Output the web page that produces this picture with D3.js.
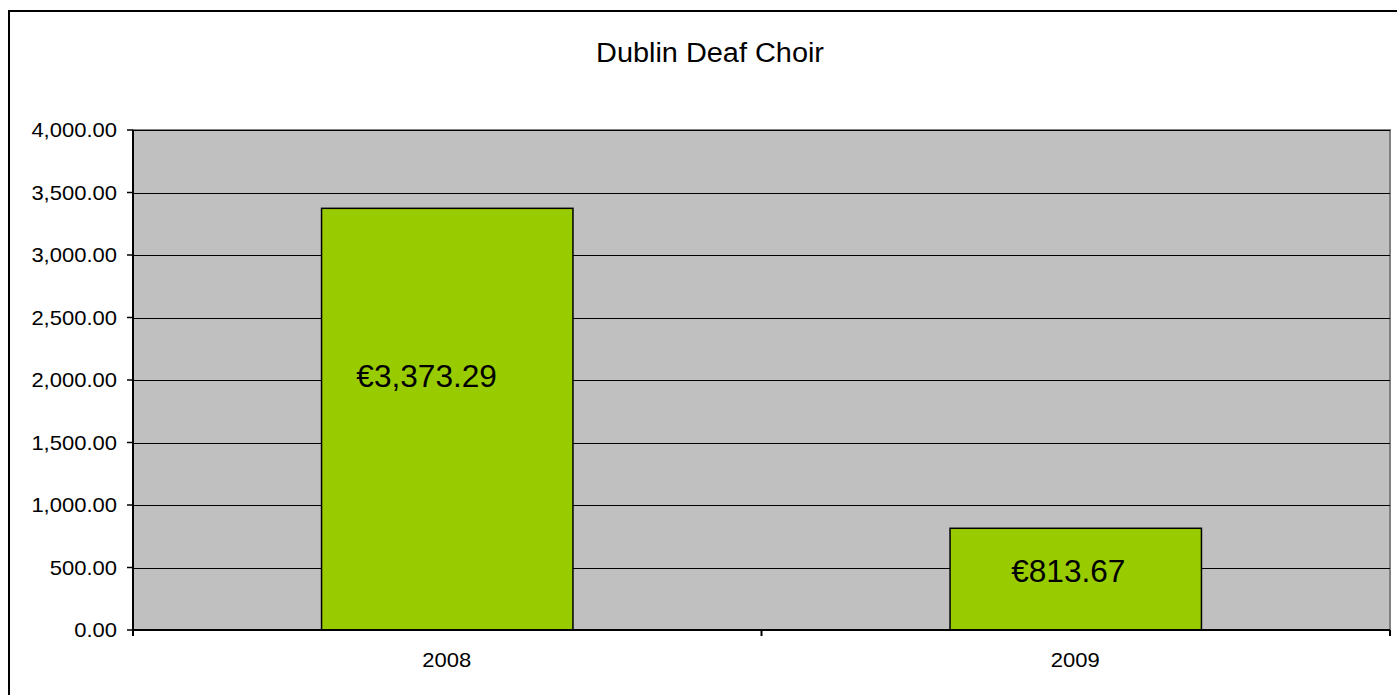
<!DOCTYPE html>
<html>
<head>
<meta charset="utf-8">
<script src="https://cdn.jsdelivr.net/npm/d3@7"></script>
<style>
  body { margin: 0; background: #fff; }
  text { font-family: "Liberation Sans", Arial, sans-serif; fill: #000; }
</style>
</head>
<body>
<div id="chart"></div>
<script>
// Data
var years = ["2008", "2009"];
var amounts = [3373.29, 813.67];
var yTicks = [0, 500, 1000, 1500, 2000, 2500, 3000, 3500, 4000];

var W = 1397, H = 695;
var margin = { top: 130, right: 7, bottom: 65, left: 133 },
    width = W - margin.left - margin.right,
    height = H - margin.top - margin.bottom;

var svg = d3.select("#chart").append("svg")
    .attr("width", W)
    .attr("height", H);

// outer chart frame (runs off the right and bottom edge)
svg.append("rect")
    .attr("x", 9).attr("y", 11)
    .attr("width", W + 20).attr("height", H + 20)
    .attr("fill", "#fff")
    .attr("stroke", "#000")
    .attr("stroke-width", 2);

// the original text is drawn a touch wider than the font, so stretch it sideways
function stretched(sel, px, py, sx) {
    return sel.append("text")
        .attr("transform", "translate(" + px + "," + py + ") scale(" + sx + ",1)");
}

// title
stretched(svg, 710, 62, 1.07)
    .attr("text-anchor", "middle")
    .style("font-size", "27px")
    .text("Dublin Deaf Choir");

var g = svg.append("g")
    .attr("transform", "translate(" + margin.left + "," + margin.top + ")");

var x = d3.scaleBand().domain(years).range([0, width]);
var y = d3.scaleLinear().domain([0, 4000]).range([height, 0]);

// plot area
g.append("rect")
    .attr("width", width).attr("height", height)
    .attr("fill", "#c0c0c0")
    .attr("stroke", "#808080")
    .attr("stroke-width", 2);

// gridlines
g.selectAll(".grid")
    .data(yTicks)
    .enter().append("line")
    .attr("x1", 0).attr("x2", width)
    .attr("y1", function (d) { return Math.round(y(d)) + 0.5; })
    .attr("y2", function (d) { return Math.round(y(d)) + 0.5; })
    .attr("stroke", "#000")
    .attr("stroke-width", 1.2);

// bars
var bw = x.bandwidth() * 0.4;
function barX(i) { return x(years[i]) + (x.bandwidth() - bw) / 2; }
g.selectAll(".bar")
    .data(amounts)
    .enter().append("rect")
    .attr("x", function (d, i) { return barX(i); })
    .attr("y", function (d) { return y(d); })
    .attr("width", bw)
    .attr("height", function (d) { return height - y(d); })
    .attr("fill", "#99cc00")
    .attr("stroke", "#000")
    .attr("stroke-width", 1.5);

// value labels (right-aligned inside the bar)
var fmt = d3.format(",.2f");
amounts.forEach(function (d, i) {
    stretched(g, barX(i) + bw - 76, y(d) * 0.61 + 209, 1.02)
        .attr("text-anchor", "end")
        .style("font-size", "31px")
        .text("€" + fmt(d));
});

// y axis: line, ticks, labels
g.append("line")
    .attr("x1", 0).attr("x2", 0).attr("y1", 0).attr("y2", height)
    .attr("stroke", "#000").attr("stroke-width", 2);
yTicks.forEach(function (t) {
    g.append("line")
        .attr("x1", -6).attr("x2", 0)
        .attr("y1", y(t)).attr("y2", y(t))
        .attr("stroke", "#000").attr("stroke-width", 1.5);
    stretched(g, -16, y(t) + 7, 1.1)
        .attr("text-anchor", "end")
        .style("font-size", "20px")
        .text(fmt(t));
});

// x axis: line, category separator ticks, labels
g.append("line")
    .attr("x1", 0).attr("x2", width)
    .attr("y1", height).attr("y2", height)
    .attr("stroke", "#000").attr("stroke-width", 2);
[0, 1, 2].forEach(function (k) {
    var px = k < 2 ? x(years[k]) : width;
    g.append("line")
        .attr("x1", px).attr("x2", px)
        .attr("y1", height).attr("y2", height + 6)
        .attr("stroke", "#000").attr("stroke-width", 2);
});
years.forEach(function (yr) {
    stretched(g, x(yr) + x.bandwidth() / 2 - 0.5, height + 37, 1.1)
        .attr("text-anchor", "middle")
        .style("font-size", "20px")
        .text(yr);
});
</script>
</body>
</html>
